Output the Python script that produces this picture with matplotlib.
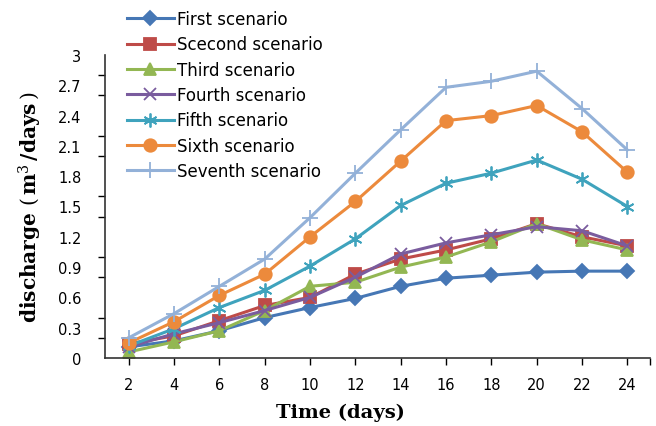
import matplotlib
matplotlib.use("Agg")
import matplotlib.pyplot as plt
from matplotlib.ticker import MultipleLocator

# --- data ---
days = [2, 4, 6, 8, 10, 12, 14, 16, 18, 20, 22, 24]

first = [0.11, 0.17, 0.27, 0.40, 0.50, 0.59, 0.71, 0.79, 0.82, 0.85, 0.86, 0.86]
second = [0.14, 0.22, 0.37, 0.52, 0.60, 0.83, 0.98, 1.07, 1.18, 1.33, 1.20, 1.11]
third = [0.06, 0.16, 0.27, 0.47, 0.71, 0.75, 0.90, 1.00, 1.15, 1.33, 1.17, 1.07]
fourth = [0.11, 0.24, 0.35, 0.47, 0.60, 0.80, 1.03, 1.14, 1.22, 1.30, 1.26, 1.11]
fifth = [0.12, 0.29, 0.50, 0.67, 0.91, 1.18, 1.51, 1.73, 1.83, 1.96, 1.77, 1.50]
sixth = [0.15, 0.36, 0.62, 0.83, 1.20, 1.55, 1.95, 2.35, 2.40, 2.50, 2.24, 1.84]
seventh = [0.20, 0.44, 0.71, 0.98, 1.39, 1.83, 2.26, 2.68, 2.74, 2.84, 2.47, 2.06]

labels = ["First scenario", "Scecond scenario", "Third scenario", "Fourth scenario",
          "Fifth scenario", "Sixth scenario", "Seventh scenario"]

# --- style per series (Excel 2007 palette) ---
series = [first, second, third, fourth, fifth, sixth, seventh]
colors = ["#4677B5", "#BE4B48", "#93B753", "#7A5C9E", "#3FA3BD", "#EC8A3C", "#93B1D8"]
markers = ["D", "s", "^", "x", (6, 2, 0), "o", "+"]
msizes = [7, 8, 8, 9, 10, 9, 11]

plt.rcParams["font.family"] = ["DejaVu Sans"]
plt.rcParams["mathtext.fontset"] = "dejavuserif"

fig = plt.figure(figsize=(6.56, 4.27), dpi=100)
ax = fig.add_axes([105 / 656, 1 - 359 / 427, 545 / 656, 303 / 427])

handles = []
for vals, lab, c, m, ms in zip(series, labels, colors, markers, msizes):
    h, = ax.plot(days, vals, color=c, lw=2.2, marker=m, markersize=ms,
                 markerfacecolor=c, markeredgecolor=c, markeredgewidth=1.3, label=lab)
    handles.append(h)

ax.set_xlim(0.95, 25)
ax.set_ylim(0, 3)
ax.set_xticks(days)
ax.xaxis.set_minor_locator(MultipleLocator(25))
ax.set_yticks([round(0.3 * i, 1) for i in range(11)])
ax.set_yticklabels(["0", "0.3", "0.6", "0.9", "1.2", "1.5", "1.8", "2.1", "2.4", "2.7", "3"])
ax.yaxis.set_minor_locator(MultipleLocator(0.2))

ax.tick_params(axis="y", which="major", length=0, pad=17, labelsize=10.5)
ax.tick_params(axis="y", which="minor", length=5, width=1)
ax.tick_params(axis="x", which="major", length=5, width=1, pad=9, labelsize=10.5)
ax.tick_params(axis="x", which="minor", length=5, width=1)

for side in ["top", "right"]:
    ax.spines[side].set_visible(False)
for side in ["left", "bottom"]:
    ax.spines[side].set_linewidth(1.2)
    ax.spines[side].set_color("#333333")

fig.text(340 / 656, 1 - 413 / 427, "Time (days)", ha="center", va="center",
         family="DejaVu Serif", fontweight="bold", fontsize=14)
fig.text(30 / 656, 1 - 207 / 427,
         r"discharge $\left(\,\mathbf{m}^{3}\,\mathbf{/days}\,\right)$",
         ha="center", va="center", rotation=90,
         family="DejaVu Serif", fontweight="bold", fontsize=14.5)

fig.legend(handles=handles, loc="upper left", bbox_to_anchor=(127 / 656, 1 - 11 / 427),
           frameon=False, fontsize=12, handlelength=2.8, handletextpad=0.2,
           labelspacing=0.44, borderaxespad=0, borderpad=0)

fig.savefig("out.png", dpi=100)
